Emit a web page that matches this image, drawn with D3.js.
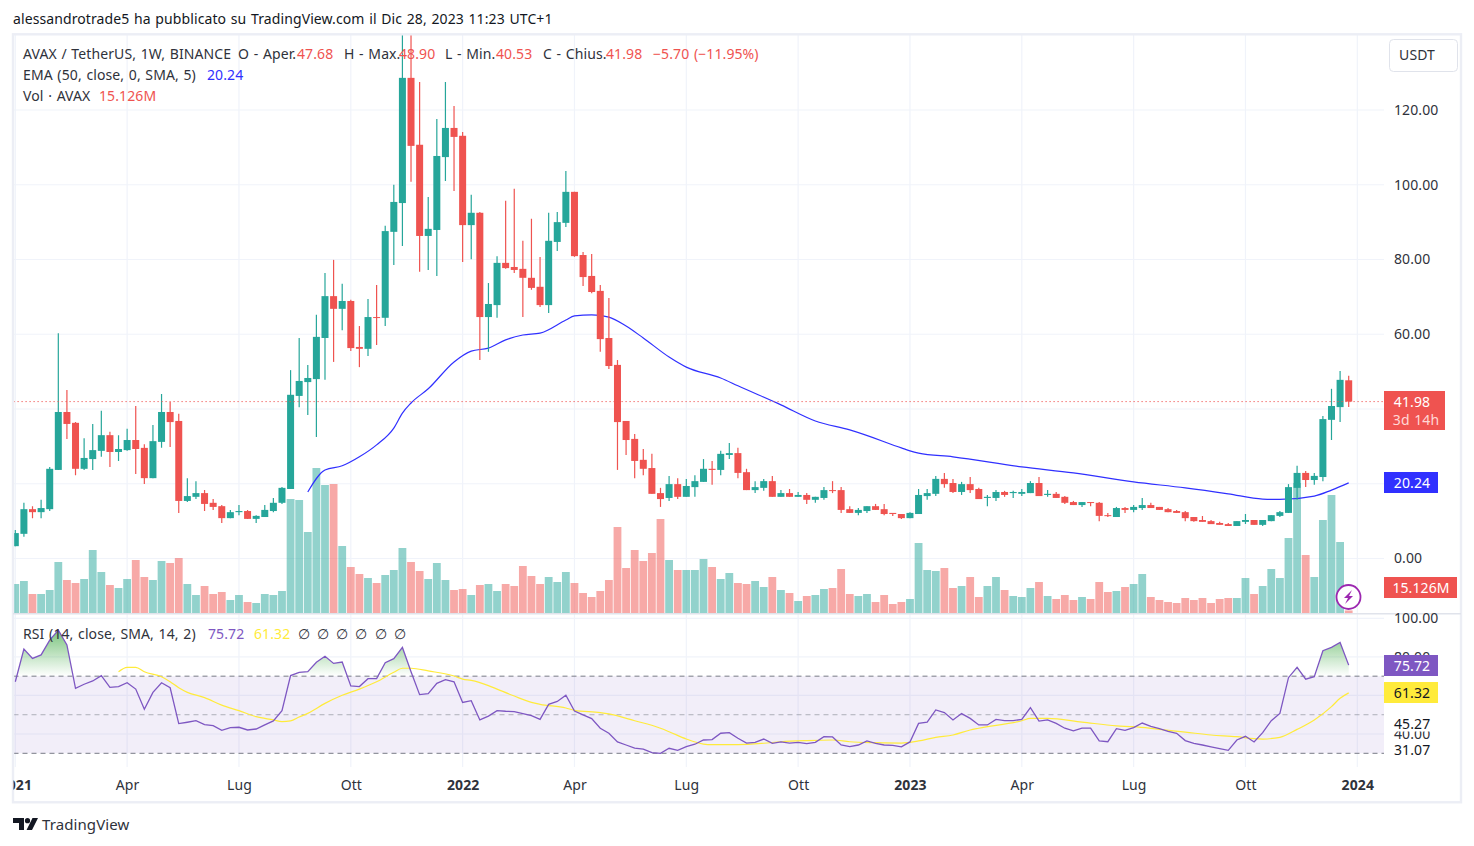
<!DOCTYPE html>
<html>
<head>
<meta charset="utf-8">
<title>AVAX / TetherUS</title>
<script src="https://cdn.jsdelivr.net/npm/d3@7"></script>
<style>
  html, body { margin: 0; padding: 0; background: #fff; }
  svg { display: block; }
  text { font-family: "Noto Sans", sans-serif; font-size: 14px; fill: #2f323b; letter-spacing: 0.1px; word-spacing: 0.9px; }
</style>
</head>
<body>
<svg width="1474" height="846"></svg>
<script>
// weekly candles, one entry per week
const opens = [
  3.3,6.6,13.2,12.4,13.2,23.7,39.2,36.3,24.0,26.6,
  28.8,33.0,28.5,29.0,31.7,29.6,21.5,31.2,39.2,36.8,
  15.4,16.5,17.5,14.9,14.0,10.8,12.4,12.7,10.6,11.1,
  12.7,14.9,18.6,43.5,47.2,48.0,59.0,70.2,66.8,68.9,
  56.6,56.1,64.6,64.4,87.4,95.1,128.6,110.7,86.3,87.9,
  107.4,115.2,113.1,89.2,92.5,64.6,67.8,79.1,78.0,77.5,
  75.1,72.7,67.8,84.7,89.8,98.1,81.2,75.6,71.6,59.0,
  51.8,36.8,32.0,26.4,24.2,17.5,16.2,19.9,16.5,19.1,
  20.5,24.0,23.7,27.7,28.2,23.1,18.3,18.9,20.7,16.5,
  17.5,16.5,17.0,15.7,16.2,18.3,18.3,13.2,12.2,12.7,
  14.0,13.2,12.2,11.9,10.8,11.9,16.7,17.3,21.3,20.2,
  17.8,19.9,18.6,16.2,16.2,17.8,17.5,17.3,17.5,20.2,
  17.0,17.3,16.5,15.1,14.3,15.1,14.9,11.6,11.1,13.5,
  13.0,13.5,14.3,13.8,13.2,12.7,12.4,11.1,10.3,10.0,
  9.5,9.2,8.7,9.8,10.3,9.0,10.0,11.4,12.2,18.9,
  22.9,21.0,21.8,37.1,40.5,47.68
]
const highs = [
  7.6,14.9,14.0,15.7,24.5,60.3,45.1,36.5,32.2,36.0,
  39.5,33.9,33.0,34.7,40.8,30.6,35.7,44.0,41.9,38.7,
  21.5,20.7,18.3,15.9,14.3,13.0,14.3,13.0,11.6,14.3,
  16.2,19.1,50.4,59.0,51.8,65.2,76.4,79.9,73.5,69.2,
  62.2,69.4,73.2,89.0,100.0,146.9,146.0,127.5,96.7,117.6,
  127.5,121.1,114.1,97.3,92.7,73.7,80.9,95.7,98.9,85.0,
  90.9,80.7,92.5,92.7,103.7,98.1,82.0,81.5,73.2,69.7,
  53.1,36.8,33.3,29.3,28.0,18.9,22.1,21.5,21.3,22.3,
  26.6,26.1,28.8,30.9,29.6,24.0,20.7,21.3,22.1,18.3,
  18.6,17.8,17.5,16.5,19.1,20.7,19.1,14.0,13.5,14.0,
  14.6,14.6,12.2,11.9,12.4,18.6,18.6,22.1,22.9,21.3,
  20.5,21.8,18.9,17.0,18.3,18.1,18.1,18.6,20.7,21.8,
  18.3,17.8,16.7,15.4,15.1,15.1,15.1,12.2,13.8,13.8,
  14.3,16.2,14.9,13.8,13.5,13.0,12.7,11.1,11.4,10.3,
  9.8,9.5,10.0,11.9,10.3,10.3,11.6,12.7,19.9,24.8,
  23.4,22.9,38.1,45.4,50.2,48.90
]
const lows = [
  3.3,5.8,10.8,10.8,12.7,23.7,32.0,22.3,23.7,23.7,
  27.2,24.5,26.1,28.8,22.6,19.9,21.5,29.6,29.8,12.2,
  15.1,15.9,12.7,13.0,9.5,10.8,11.6,10.6,9.5,11.1,
  12.4,14.6,18.6,40.5,38.4,32.5,47.8,52.6,61.1,55.5,
  51.2,54.2,57.1,62.2,78.5,83.6,100.8,76.7,77.2,75.6,
  101.0,98.3,79.3,80.1,53.1,55.3,64.4,77.5,76.4,64.6,
  71.9,67.3,65.7,82.3,88.7,80.7,72.9,71.0,55.3,50.7,
  23.7,27.7,21.5,22.3,17.3,13.8,15.4,15.9,16.5,16.5,
  20.5,19.7,22.3,26.6,21.5,18.3,17.5,18.1,16.5,16.5,
  16.5,16.5,14.6,14.9,15.7,17.5,12.2,12.2,11.6,12.2,
  13.0,11.6,11.4,10.6,10.8,11.9,15.7,16.7,18.9,17.5,
  17.0,17.5,15.9,14.0,15.4,16.5,16.2,16.7,17.5,16.7,
  16.5,16.2,14.6,14.3,13.8,14.0,10.0,11.1,11.1,12.2,
  12.4,13.0,13.5,13.0,12.4,12.2,10.0,9.8,9.8,9.2,
  9.0,8.7,8.7,9.2,9.0,8.7,10.0,11.1,12.2,15.7,
  19.1,19.7,20.7,31.7,36.5,40.53
]
const closes = [
  6.8,13.2,12.4,13.5,24.0,39.2,36.0,24.0,26.9,29.0,
  33.0,28.5,29.3,31.7,29.3,21.5,31.4,39.2,36.5,15.4,
  16.7,17.5,14.6,13.8,10.8,12.4,12.7,10.6,11.4,13.0,
  14.9,18.9,43.8,47.5,48.3,59.3,70.2,66.8,68.9,56.3,
  56.1,64.6,64.4,87.6,95.4,128.6,110.4,86.3,88.2,107.7,
  115.2,112.8,89.2,92.5,64.6,68.1,79.1,77.7,77.2,75.1,
  72.4,67.8,85.0,90.0,98.1,80.9,75.3,71.3,58.7,51.5,
  36.5,31.7,26.1,24.0,17.3,15.9,19.9,16.5,19.4,20.7,
  24.0,23.7,28.0,28.2,22.9,18.3,19.1,20.7,16.5,17.5,
  16.5,17.0,15.7,16.5,18.3,18.1,13.0,12.2,13.0,14.0,
  13.0,11.9,11.9,10.8,12.2,17.0,17.5,21.3,19.9,17.8,
  19.9,18.3,15.9,16.5,17.8,17.0,17.8,17.8,20.2,16.7,
  17.3,16.2,14.9,14.3,15.1,14.9,11.4,11.4,13.5,13.0,
  13.8,14.3,13.5,13.0,12.4,12.2,10.8,10.0,9.8,9.2,
  9.0,8.7,10.0,10.3,9.0,10.3,11.6,12.4,19.1,22.9,
  21.0,22.1,37.3,40.8,47.8,41.98
]
// volume in millions of AVAX
const volumes = [
  174,192,114,114,138,306,198,180,204,378,
  246,168,150,204,318,216,198,312,300,330,
  174,108,162,114,126,78,108,66,60,114,
  108,132,684,678,486,870,768,774,402,276,
  234,210,180,228,258,390,306,252,204,300,
  198,138,144,108,168,174,132,174,162,282,
  222,174,216,186,246,180,120,96,132,198,
  516,270,378,312,360,564,318,258,258,258,
  324,276,204,240,180,174,192,156,216,138,
  120,72,102,108,144,150,264,114,102,114,
  66,108,54,66,84,420,258,252,270,150,
  162,216,96,162,216,138,102,96,150,186,
  102,84,108,78,96,84,186,126,132,156,
  174,234,96,78,66,60,90,78,90,60,
  84,90,90,210,114,162,264,210,450,780,
  348,216,558,708,426,15.126
]
const rsiValues = [
  67.1,84.1,79.2,81.0,88.7,93.9,86.2,63.7,65.8,67.5,
  70.3,64.2,64.6,66.6,63.3,52.8,61.6,66.6,64.0,45.4,
  46.1,46.9,44.9,44.3,41.9,43.3,43.5,42.1,42.6,44.7,
  46.8,52.1,70.3,72.0,72.3,77.2,80.3,76.6,77.3,64.9,
  64.6,68.7,68.7,77.0,79.1,84.9,72.3,60.4,60.9,66.3,
  68.2,67.1,56.4,57.3,47.3,49.3,52.1,51.8,51.6,50.6,
  49.5,47.6,55.4,56.9,60.1,51.9,49.9,48.0,43.0,40.4,
  35.9,34.3,32.7,32.2,30.3,30.0,32.6,31.5,33.5,34.7,
  36.9,37.1,40.4,40.7,37.8,35.3,35.7,37.4,35.2,35.9,
  35.3,35.7,35.0,35.7,38.6,38.5,34.3,33.5,34.3,36.4,
  35.2,34.3,34.1,33.3,35.9,45.5,46.2,52.5,51.1,47.3,
  50.6,48.1,44.7,44.7,47.6,46.9,46.9,47.6,53.7,46.7,
  47.3,45.5,43.0,41.6,43.1,43.1,36.4,36.0,42.8,41.9,
  43.3,45.7,44.0,42.8,41.4,40.4,36.6,35.2,34.3,33.3,
  32.4,31.5,36.9,38.8,35.9,40.7,46.9,50.7,69.2,74.6,
  68.4,69.7,83.2,84.9,87.5,75.72
]
// EMA and RSI average, read at the weeks listed
const emaWeeks = [34,36,38,40,42,44,45,46,48,51,53,55,57,59,61,64,65,67,69,71,73,76,78,82,84,89,93,97,103,104,105,109,117,123,130,136,141,145,147,151,153,155]
const emaValues = [17.8,23.7,24.8,27.2,30.4,34.9,38.9,41.6,45.4,52.6,55.5,56.3,58.5,59.8,60.3,63.8,64.9,65.2,64.6,62.2,59.0,53.9,51.2,48.3,46.2,41.1,36.8,34.4,29.6,28.8,28.2,27.2,24.5,22.9,20.5,18.9,17.3,15.9,15.8,16.7,18.3,20.24]
const rsiSmaWeeks = [12,13,14,15,17,18,19,20,22,24,26,28,30,31,32,33,34,36,38,40,42,44,45,46,48,51,52,53,55,56,58,60,61,64,65,68,69,72,75,76,78,80,81,84,87,89,92,95,97,100,103,105,107,109,111,112,117,118,120,124,128,130,133,136,139,142,144,145,147,149,151,153,154,155]
const rsiSmaValues = [72.3,74.6,74.6,72.3,69.7,67.1,64.0,61.6,58.9,55.0,52.1,49.0,47.3,46.4,46.8,48.8,50.7,55.9,60.1,63.3,67.1,72.0,74.1,74.1,72.7,70.1,68.5,67.8,65.1,63.3,59.7,56.4,55.4,53.5,52.3,51.1,50.4,46.9,43.0,41.2,37.4,34.8,34.5,34.5,35.2,36.0,36.6,36.9,36.0,35.5,35.3,36.4,38.3,39.5,42.1,43.0,46.9,48.1,48.1,46.2,44.2,43.8,42.4,41.0,39.5,38.6,37.6,37.4,38.3,42.4,47.3,54.2,58.5,61.32]

const priceGrid = [0, 20, 40, 60, 80, 100, 120]
const priceTicks = [0, 60, 80, 100, 120]
const rsiTicks = [100, 80, 40]
const timeTickWeeks = [0, 13, 26, 39, 52, 65, 78, 91, 104, 117, 130, 143, 156]
const timeTickLabels = ['2021', 'Apr', 'Lug', 'Ott', '2022', 'Apr', 'Lug', 'Ott', '2023', 'Apr', 'Lug', 'Ott', '2024']
const yearLabels = ['2021', '2022', '2023', '2024']

const upColor = '#26a69a', downColor = '#ef5350', emaColor = '#3030ff', rsiColor = '#7e57c2', smaColor = '#ffeb3b'
const gridColor = '#f0f3fa', borderColor = '#eceef5', textColor = '#2f323b'

const svg = d3.select('svg')
const chartLeft = 13.5, chartRight = 1384, chartTop = 35, paneSplit = 613.5, rsiBottom = 767

const x = d3.scaleLinear().domain([0, 156]).range([15.3, 1357.3])
const y = d3.scaleLinear().domain([0, 120]).range([558.5, 110])
const yVol = d3.scaleLinear().domain([0, 870]).range([613, 468])
const yRsi = d3.scaleLinear().domain([30, 100]).range([753.3, 618.3])
const weeks = d3.range(opens.length)

const defs = svg.append('defs')
defs.append('clipPath').attr('id', 'clipPrice').append('rect')
    .attr('x', chartLeft).attr('y', chartTop).attr('width', chartRight - chartLeft).attr('height', paneSplit - chartTop)
defs.append('clipPath').attr('id', 'clipRsi').append('rect')
    .attr('x', chartLeft).attr('y', paneSplit).attr('width', chartRight - chartLeft).attr('height', rsiBottom - paneSplit)
defs.append('clipPath').attr('id', 'clipOver').append('rect')
    .attr('x', chartLeft).attr('y', paneSplit).attr('width', chartRight - chartLeft).attr('height', yRsi(70) - paneSplit)
defs.append('clipPath').attr('id', 'clipTime').append('rect')
    .attr('x', chartLeft).attr('y', rsiBottom).attr('width', 1447).attr('height', 34)

const overGrad = defs.append('linearGradient').attr('id', 'overGrad')
    .attr('gradientUnits', 'userSpaceOnUse').attr('x1', 0).attr('x2', 0).attr('y1', yRsi(94)).attr('y2', yRsi(70))
overGrad.append('stop').attr('offset', 0).attr('stop-color', '#4caf50').attr('stop-opacity', 0.75)
overGrad.append('stop').attr('offset', 1).attr('stop-color', '#4caf50').attr('stop-opacity', 0)

// grid
const grid = svg.append('g').attr('stroke', gridColor).attr('stroke-width', 1.2)
grid.selectAll('.v').data(timeTickWeeks).enter().append('line')
    .attr('x1', d => x(d)).attr('x2', d => x(d)).attr('y1', chartTop).attr('y2', rsiBottom)
grid.selectAll('.h').data(priceGrid).enter().append('line')
    .attr('x1', chartLeft).attr('x2', chartRight).attr('y1', d => y(d)).attr('y2', d => y(d))

// RSI band under the grid lines of that pane
svg.append('rect').attr('x', chartLeft).attr('width', chartRight - chartLeft)
    .attr('y', yRsi(70)).attr('height', yRsi(30) - yRsi(70)).attr('fill', rsiColor).attr('fill-opacity', 0.1)
grid.selectAll('.r').data([100, 80, 60, 40]).enter().append('line')
    .attr('x1', chartLeft).attr('x2', chartRight).attr('y1', d => yRsi(d)).attr('y2', d => yRsi(d))

// volume, ema, candles
const pricePane = svg.append('g').attr('clip-path', 'url(#clipPrice)')
pricePane.selectAll('.vol').data(weeks).enter().append('rect')
    .attr('class', 'vol')
    .attr('x', i => x(i) - 3.9)
    .attr('width', 7.8)
    .attr('y', i => yVol(volumes[i]))
    .attr('height', i => yVol(0) - yVol(volumes[i]))
    .attr('fill', i => closes[i] >= opens[i] ? upColor : downColor)
    .attr('fill-opacity', 0.5)

pricePane.append('path')
    .attr('d', d3.line().curve(d3.curveMonotoneX).x(d => x(d)).y((d, i) => y(emaValues[i]))(emaWeeks))
    .attr('fill', 'none').attr('stroke', emaColor).attr('stroke-width', 1.2)

pricePane.selectAll('.wick').data(weeks).enter().append('line')
    .attr('class', 'wick')
    .attr('x1', i => x(i)).attr('x2', i => x(i))
    .attr('y1', i => y(highs[i])).attr('y2', i => y(lows[i]))
    .attr('stroke', i => closes[i] >= opens[i] ? upColor : downColor)
    .attr('stroke-width', 1.2)

pricePane.selectAll('.body').data(weeks).enter().append('rect')
    .attr('class', 'body')
    .attr('x', i => x(i) - 3.5)
    .attr('width', 7)
    .attr('y', i => y(Math.max(opens[i], closes[i])))
    .attr('height', i => Math.max(1, Math.abs(y(opens[i]) - y(closes[i]))))
    .attr('fill', i => closes[i] >= opens[i] ? upColor : downColor)

// last price line
svg.append('line').attr('x1', chartLeft).attr('x2', chartRight)
    .attr('y1', y(closes[155])).attr('y2', y(closes[155]))
    .attr('stroke', downColor).attr('stroke-width', 1).attr('stroke-dasharray', '1.2 2.8')

// RSI pane
const rsiPane = svg.append('g').attr('clip-path', 'url(#clipRsi)')
rsiPane.selectAll('.dash').data([70, 50, 30]).enter().append('line')
    .attr('x1', chartLeft).attr('x2', chartRight)
    .attr('y1', d => yRsi(d)).attr('y2', d => yRsi(d))
    .attr('stroke', '#787b86').attr('stroke-width', 1)
    .attr('stroke-opacity', d => d === 50 ? 0.55 : 1)
    .attr('stroke-dasharray', '5 4')

const overArea = d3.area().x(i => x(i)).y0(yRsi(70)).y1(i => yRsi(rsiValues[i]))
rsiPane.append('g').attr('clip-path', 'url(#clipOver)').append('path')
    .attr('d', overArea(weeks))
    .attr('fill', 'url(#overGrad)')

rsiPane.append('path')
    .attr('d', d3.line().curve(d3.curveMonotoneX).x(d => x(d)).y((d, i) => yRsi(rsiSmaValues[i]))(rsiSmaWeeks))
    .attr('fill', 'none').attr('stroke', smaColor).attr('stroke-width', 1.2)
rsiPane.append('path')
    .attr('d', d3.line().x(i => x(i)).y(i => yRsi(rsiValues[i]))(weeks))
    .attr('fill', 'none').attr('stroke', rsiColor).attr('stroke-width', 1.3)

// frame and pane split
svg.append('rect').attr('x', 13).attr('y', 34.3).attr('width', 1448).attr('height', 768)
    .attr('fill', 'none').attr('stroke', borderColor).attr('stroke-width', 2.4)
svg.append('line').attr('x1', 13).attr('x2', 1461).attr('y1', 613.8).attr('y2', 613.8)
    .attr('stroke', '#e0e3eb').attr('stroke-width', 1.5)

// axes
const priceAxis = svg.append('g').attr('transform', 'translate(1394,0)')
    .call(d3.axisRight(y).tickValues(priceTicks).tickSize(0).tickPadding(0).tickFormat(d3.format('.2f')))
const rsiAxis = svg.append('g').attr('transform', 'translate(1394,0)')
    .call(d3.axisRight(yRsi).tickValues(rsiTicks).tickSize(0).tickPadding(0).tickFormat(d3.format('.2f')))
const timeClip = svg.append('g').attr('clip-path', 'url(#clipTime)')
const timeAxis = timeClip.append('g').attr('transform', 'translate(0,780)')
    .call(d3.axisBottom(x).tickValues(timeTickWeeks).tickSize(0).tickPadding(0)
        .tickFormat((d, i) => timeTickLabels[i]))
svg.selectAll('.domain').remove()
svg.selectAll('.tick text').style('font-size', '14px').style('font-family', '"Noto Sans", sans-serif').style('fill', textColor)
timeAxis.selectAll('.tick text').style('font-weight', (d, i) => yearLabels.includes(timeTickLabels[i]) ? 700 : 400)

// little text helper, keeps the block below short
function label(txt, px, py, color, anchor, weight) {
    return svg.append('text').attr('x', px).attr('y', py)
        .attr('text-anchor', anchor || 'start')
        .style('fill', color || textColor)
        .style('font-weight', weight || 400)
        .text(txt)
}

// value boxes on the price axis
function box(py, h, w, color) {
    svg.append('rect').attr('x', chartRight).attr('y', py).attr('width', w).attr('height', h).attr('fill', color)
}
box(391, 39, 61, downColor)
label('41.98', 1412, 407, '#fff', 'middle')
label('3d 14h', 1416, 425, '#ffd8d6', 'middle')
box(472, 21, 54, emaColor)
label('20.24', 1412, 488, '#fff', 'middle')
box(577, 21, 73, downColor)
label('15.126M', 1421, 593, '#fff', 'middle')
box(655, 21, 54, rsiColor)
label('75.72', 1412, 671, '#fff', 'middle')
box(682, 21, 54, smaColor)
label('61.32', 1412, 698, '#131722', 'middle')

svg.append('rect').attr('x', 1390).attr('y', 715).attr('width', 54).attr('height', 16.5).attr('fill', '#fff')
label('45.27', 1394, 729, '#131722')
svg.append('rect').attr('x', 1390).attr('y', 741).attr('width', 54).attr('height', 18).attr('fill', '#fff')
label('31.07', 1394, 755, '#131722')

svg.append('rect').attr('x', 1389.5).attr('y', 39.5).attr('width', 68).attr('height', 32).attr('rx', 4)
    .attr('fill', '#fff').attr('stroke', '#e0e3eb')
label('USDT', 1417, 60, textColor, 'middle')

// replay flash badge
svg.append('circle').attr('cx', 1348.5).attr('cy', 597).attr('r', 12).attr('fill', '#fff')
    .attr('stroke', '#9c27b0').attr('stroke-width', 1.8)
svg.append('path').attr('d', 'M1352 590 L1344 598 H1348 L1345 604 L1353 596 H1349 Z').attr('fill', '#9c27b0')

// legends
label('alessandrotrade5 ha pubblicato su TradingView.com il Dic 28, 2023 11:23 UTC+1', 13, 24, '#131722')

label('AVAX / TetherUS, 1W, BINANCE', 23, 59)
label('O - Aper.', 238, 59)
label('47.68', 297, 59, downColor)
label('H - Max.', 344, 59)
label('48.90', 399, 59, downColor)
label('L - Min.', 445, 59)
label('40.53', 496, 59, downColor)
label('C - Chius.', 543, 59)
label('41.98', 606, 59, downColor)
label('\u22125.70 (\u221211.95%)', 653, 59, downColor)

label('EMA (50, close, 0, SMA, 5)', 23, 80)
label('20.24', 207, 80, emaColor)
label('Vol \u00b7 AVAX', 23, 101)
label('15.126M', 99, 101, downColor)

label('RSI (14, close, SMA, 14, 2)', 23, 639)
label('75.72', 208, 639, rsiColor)
label('61.32', 254, 639, smaColor)
const naLabels = [304, 323, 342, 361, 381, 400]
naLabels.forEach(px => label('\u2205', px, 639, textColor, 'middle'))

// footer logo
svg.append('path').attr('d', 'M13 818 H24 V830 H19 V823 H13 Z M32.5 818 H38 L32 830 H26.5 Z').attr('fill', '#131722')
svg.append('circle').attr('cx', 27.5).attr('cy', 820.7).attr('r', 2.6).attr('fill', '#131722')
label('TradingView', 42, 830, '#2f323b').style('font-size', '15px')
</script>
</body>
</html>
